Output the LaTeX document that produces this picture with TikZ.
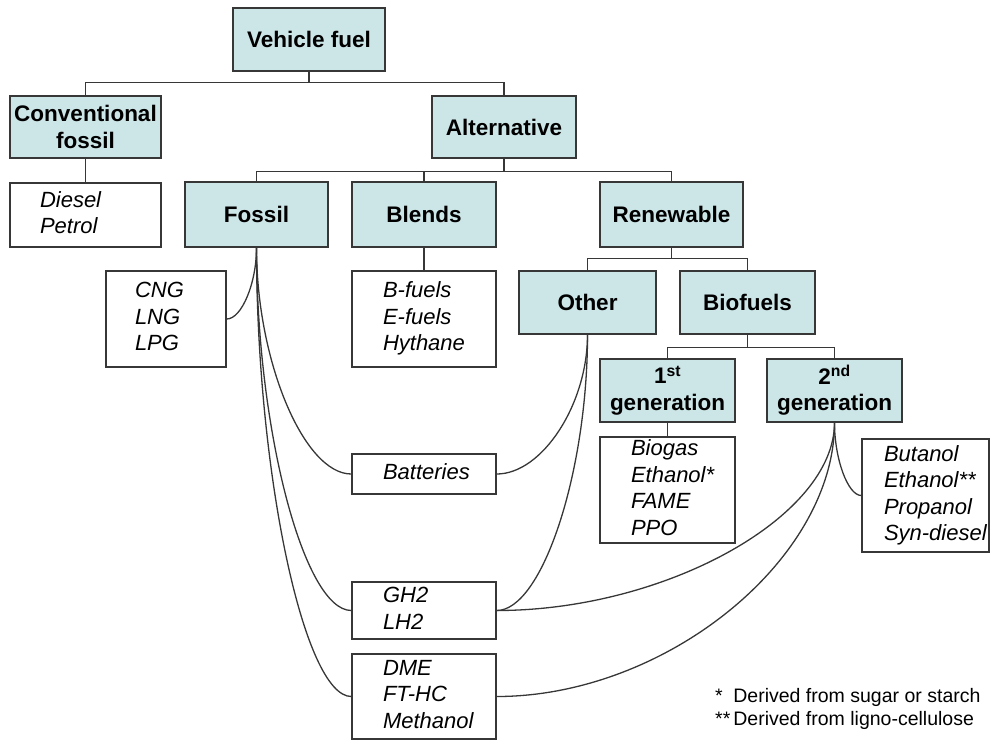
\documentclass[tikz,border=0pt]{standalone}
\usepackage{fontspec}
\setmainfont{Liberation Sans}
\setsansfont{Liberation Sans}
\usepackage{tikz}
\usetikzlibrary{calc}

\definecolor{boxfill}{RGB}{204,229,231}
\definecolor{linegray}{RGB}{55,55,55}

% indented list of fuels inside a white box
\newcommand{\fuellist}[2]{\hspace*{#1}\begin{tabular}{@{}l@{}}#2\end{tabular}}

\begin{document}
\begin{tikzpicture}[
    x=1pt, y=1pt,
    cat/.style={rectangle, draw=linegray, fill=boxfill, line width=1.4pt, inner sep=0pt, align=center, font=\bfseries\fontsize{22.5}{26.5}\selectfont},
    fuels/.style={rectangle, draw=linegray, fill=white, line width=1.4pt, inner sep=0pt, align=left, font=\itshape\fontsize{22}{26.5}\selectfont},
    line/.style={draw=linegray, line width=1.3pt},
    curved/.style={line, to path={.. controls ($(\tikztostart)!.5!(\tikztostart |- \tikztotarget)$) and ($(\tikztotarget)!.5!(\tikztostart |- \tikztotarget)$) .. (\tikztotarget)}}
]
    \useasboundingbox (0,0) rectangle (990,-740);

    % Category boxes
    \node[cat, minimum width=152pt, minimum height=63pt] (fuel) at (309,-39.5) {Vehicle fuel};
    \node[cat, minimum width=151pt, minimum height=62pt] (conv) at (85.5,-127) {Conventional\\fossil};
    \node[cat, minimum width=144pt, minimum height=62pt] (alt) at (504,-127) {Alternative};
    \node[cat, minimum width=143pt, minimum height=65pt] (fossil) at (256.5,-214.5) {Fossil};
    \node[cat, minimum width=144pt, minimum height=65pt] (blends) at (424,-214.5) {Blends};
    \node[cat, minimum width=143pt, minimum height=65pt] (renew) at (671.5,-214.5) {Renewable};
    \node[cat, minimum width=137pt, minimum height=63pt] (other) at (587.5,-302.5) {Other};
    \node[cat, minimum width=135pt, minimum height=63pt] (bio) at (747.5,-302.5) {Biofuels};
    \node[cat, minimum width=135pt, minimum height=63pt] (gen1) at (667.5,-390.5) {1\textsuperscript{st}\\generation};
    \node[cat, minimum width=135pt, minimum height=63pt] (gen2) at (834.5,-390.5) {2\textsuperscript{nd}\\generation};

    % Fuel lists
    \node[fuels, text width=151pt, minimum height=64pt] (diesel) at (85.5,-215) {\fuellist{30pt}{Diesel\\Petrol}};
    \node[fuels, text width=120pt, minimum height=96pt] (gas) at (166,-319) {\fuellist{29pt}{CNG\\LNG\\LPG}};
    \node[fuels, text width=144pt, minimum height=96pt] (mixes) at (424,-319) {\fuellist{31pt}{B-fuels\\E-fuels\\Hythane}};
    \node[fuels, text width=144pt, minimum height=40pt] (batt) at (424,-474) {\fuellist{31pt}{Batteries}};
    \node[fuels, text width=144pt, minimum height=57pt] (hydro) at (424,-610.5) {\fuellist{31pt}{GH2\\LH2}};
    \node[fuels, text width=144pt, minimum height=85pt] (synth) at (424,-696.5) {\fuellist{31pt}{DME\\FT-HC\\Methanol}};
    \node[fuels, text width=135pt, minimum height=104pt] (firstlist) at (667.5,-490) {\fuellist{31pt}{Biogas\\Ethanol*\\FAME\\PPO}};
    \node[fuels, text width=127pt, minimum height=113pt] (secondlist) at (925.5,-495.5) {\fuellist{22pt}{Butanol\\Ethanol**\\Propanol\\Syn-diesel}};

    % Footnotes
    \node[anchor=base west, inner sep=0pt, font=\fontsize{19.5}{23.5}\selectfont] (notes) at (715,-702) {\begin{tabular}[t]{@{}l@{\hspace{3pt}}l@{}}* & Derived from sugar or starch\\ {**} & Derived from ligno-cellulose\end{tabular}};

    % Tree lines
    \path[line] (fuel.south) -- ++(0,-11) -| (conv.north);
    \path[line] (fuel.south) -- ++(0,-11) -| (alt.north);
    \path[line] (alt.south) -- ++(0,-13) -| (fossil.north);
    \path[line] (alt.south) -- ++(0,-13) -| (blends.north);
    \path[line] (alt.south) -- ++(0,-13) -| (renew.north);
    \path[line] (renew.south) -- ++(0,-11) -| (other.north);
    \path[line] (renew.south) -- ++(0,-11) -| (bio.north);
    \path[line] (bio.south) -- ++(0,-13) -| (gen1.north);
    \path[line] (bio.south) -- ++(0,-13) -| (gen2.north);
    \path[line] (conv.south) -- (diesel.north);
    \path[line] (blends.south) -- (mixes.north);
    \path[line] (gen1.south) -- (firstlist.north);

    % Curved links
    \path[curved] (fossil.south) to (gas.east);
    \path[curved] (fossil.south) to (batt.west);
    \path[curved] (fossil.south) to (hydro.west);
    \path[curved] (fossil.south) to (synth.west);
    \path[curved] (other.south) to (batt.east);
    \path[curved] (other.south) to (hydro.east);
    \path[curved] (gen2.south) to (hydro.east);
    \path[curved] (gen2.south) to (synth.east);
    \path[curved] (gen2.south) to (secondlist.west);
\end{tikzpicture}
\end{document}
